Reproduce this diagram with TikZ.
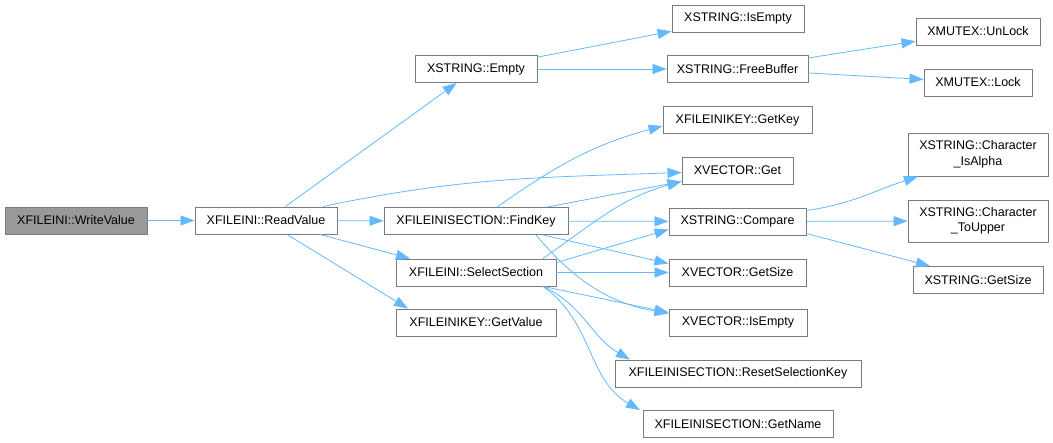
\documentclass[tikz,border=0pt]{standalone}
\usepackage{fontspec}
\setmainfont{Liberation Sans}
\usepackage{tikz}
\usetikzlibrary{arrows.meta, positioning}
\definecolor{cgedge}{HTML}{63B8FF}
\definecolor{cgborder}{HTML}{7A7A7A}
\definecolor{cgroot}{HTML}{999999}

\begin{document}
\begin{tikzpicture}[
  x=1pt, y=-1pt,
  every node/.style={font=\fontsize{12.5}{15.5}\selectfont},
  fn/.style={draw=cgborder, fill=white, line width=0.9pt, minimum height=27pt, inner xsep=2pt, inner ysep=2pt, align=center},
  call/.style={-{Stealth[length=14pt, width=10pt, inset=0pt]}, cgedge, line width=0.8pt}
]
  \useasboundingbox (0,0) rectangle (1053,443);

  % Caller
  \node[fn, fill=cgroot, minimum width=142pt] (writeValue) at (76,220.5) {XFILEINI::WriteValue};
  \node[fn, minimum width=142pt] (readValue) at (266,220.5) {XFILEINI::ReadValue};

  % Second column
  \node[fn, minimum width=122pt] (strEmpty) at (476,69) {XSTRING::Empty};
  \node[fn, minimum width=184pt] (findKey) at (476,221) {XFILEINISECTION::FindKey};
  \node[fn, minimum width=160pt] (selectSection) at (476,272.5) {XFILEINI::SelectSection};
  \node[fn, minimum width=160pt] (getValue) at (476,322.5) {XFILEINIKEY::GetValue};

  % Third column
  \node[fn, minimum width=132pt] (strIsEmpty) at (738,18.5) {XSTRING::IsEmpty};
  \node[fn, minimum width=141pt] (strFreeBuffer) at (737.5,69) {XSTRING::FreeBuffer};
  \node[fn, minimum width=149pt] (getKey) at (737.5,120) {XFILEINIKEY::GetKey};
  \node[fn, minimum width=111pt] (vecGet) at (737.5,170.5) {XVECTOR::Get};
  \node[fn, minimum width=137pt] (compare) at (737.5,221.5) {XSTRING::Compare};
  \node[fn, minimum width=137pt] (vecGetSize) at (737.5,272.5) {XVECTOR::GetSize};
  \node[fn, minimum width=138pt] (vecIsEmpty) at (738,322.5) {XVECTOR::IsEmpty};
  \node[fn, minimum width=246pt] (resetKey) at (738,373.5) {XFILEINISECTION::ResetSelectionKey};
  \node[fn, minimum width=190pt] (getName) at (738,424) {XFILEINISECTION::GetName};

  % Fourth column
  \node[fn, minimum width=124pt] (unLock) at (978,31.5) {XMUTEX::UnLock};
  \node[fn, minimum width=108pt] (lock) at (978,82.5) {XMUTEX::Lock};
  \node[fn, minimum width=140pt, minimum height=43pt] (isAlpha) at (978,154.5) {XSTRING::Character\\\_IsAlpha};
  \node[fn, minimum width=140pt, minimum height=42pt] (toUpper) at (978,221) {XSTRING::Character\\\_ToUpper};
  \node[fn, minimum width=130pt] (strGetSize) at (978,280) {XSTRING::GetSize};

  % Calls from WriteValue and ReadValue
  \draw[call] (writeValue) -- (readValue);
  \draw[call] (readValue) -- (strEmpty);
  \draw[call] ([xshift=57pt]readValue.north) to[out=12, in=182] ([yshift=-2pt]vecGet.west);
  \draw[call] (readValue) -- (findKey);
  \draw[call] ([xshift=54pt]readValue.south) -- ([xshift=-66pt]selectSection.north);
  \draw[call] ([xshift=21pt]readValue.south) -- ([xshift=-68pt]getValue.north);

  % Calls from XSTRING::Empty
  \draw[call] (strEmpty) -- (strIsEmpty);
  \draw[call] (strEmpty) -- (strFreeBuffer);
  \draw[call] (strFreeBuffer) -- (unLock);
  \draw[call] (strFreeBuffer) -- (lock);

  % Calls from FindKey
  \draw[call] ([xshift=21pt]findKey.north) to[out=35, in=195] ([yshift=-6pt]getKey.west);
  \draw[call] ([xshift=71pt]findKey.north) -- ([yshift=-11pt]vecGet.west);
  \draw[call] (findKey) -- (compare);
  \draw[call] ([xshift=67pt]findKey.south) -- ([yshift=9pt]vecGetSize.west);
  \draw[call] ([xshift=60pt]findKey.south) to[out=-50, in=170] ([yshift=9pt]vecIsEmpty.west);

  % Calls from SelectSection
  \draw[call] ([xshift=67pt]selectSection.north) to[out=35, in=195] ([yshift=-11pt]vecGet.west);
  \draw[call] ([yshift=10pt]selectSection.east) -- ([yshift=-8pt]compare.west);
  \draw[call] (selectSection) -- (vecGetSize);
  \draw[call] ([xshift=67pt]selectSection.south) -- ([yshift=10pt]vecIsEmpty.west);
  \draw[call] ([xshift=67pt]selectSection.south) to[out=-25, in=150] ([xshift=-108pt]resetKey.north);
  \draw[call] ([xshift=67pt]selectSection.south) to[out=-35, in=150] ([xshift=-98pt]getName.north);

  % Calls from Compare
  \draw[call] ([yshift=11pt]compare.east) to[out=8, in=198] ([xshift=-60pt]isAlpha.south);
  \draw[call] (compare) -- (toUpper);
  \draw[call] ([yshift=-12pt]compare.east) -- ([xshift=-48pt]strGetSize.north);
\end{tikzpicture}
\end{document}
